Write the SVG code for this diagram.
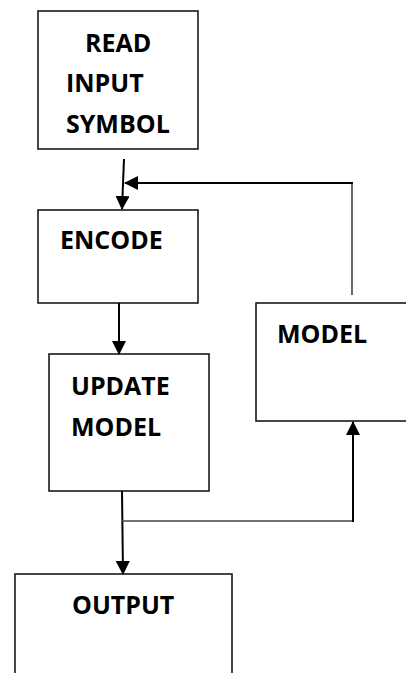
<svg xmlns="http://www.w3.org/2000/svg" width="406" height="673" viewBox="0 0 406 673">
  <defs>
    <style>
      .box { fill: #fff; stroke: #1a1a1a; stroke-width: 1.6; }
      .label { font-family: "Open Sans", "Liberation Sans", sans-serif; font-weight: 700; font-size: 25px; fill: #000; }
      .flow { fill: none; stroke: #000; stroke-width: 2; }
      .flow-thin { fill: none; stroke: #444; stroke-width: 1.6; }
    </style>
    <marker id="arrow" viewBox="0 0 14 14" refX="13" refY="7" markerWidth="14" markerHeight="14" markerUnits="userSpaceOnUse" orient="auto">
      <path d="M0,0 L14,7 L0,14 Z" fill="#000"/>
    </marker>
  </defs>
  <rect width="406" height="673" fill="#fff"/>

  <g id="read-input-symbol">
    <rect class="box" x="38" y="11" width="160" height="138"/>
    <text class="label" x="85" y="52">READ</text>
    <text class="label" x="66" y="92">INPUT</text>
    <text class="label" x="66" y="133">SYMBOL</text>
  </g>

  <g id="encode">
    <rect class="box" x="38" y="210" width="160" height="93"/>
    <text class="label" x="60" y="249">ENCODE</text>
  </g>

  <g id="model">
    <rect class="box" x="256" y="303" width="160" height="118"/>
    <text class="label" x="277" y="343">MODEL</text>
  </g>

  <g id="update-model">
    <rect class="box" x="49" y="354" width="160" height="137"/>
    <text class="label" x="71" y="395">UPDATE</text>
    <text class="label" x="71" y="436">MODEL</text>
  </g>

  <g id="output">
    <rect class="box" x="15" y="574" width="217" height="110"/>
    <text class="label" x="72" y="614">OUTPUT</text>
  </g>

  <g id="connectors">
    <!-- symbol read -> encode -->
    <line class="flow" x1="124" y1="159" x2="122" y2="209" marker-end="url(#arrow)"/>
    <!-- model feedback -> encode input -->
    <line class="flow-thin" x1="352" y1="295" x2="352" y2="183"/>
    <line class="flow" x1="353" y1="183" x2="125" y2="183" marker-end="url(#arrow)"/>
    <!-- encode -> update model -->
    <line class="flow" x1="119" y1="303" x2="119" y2="354" marker-end="url(#arrow)"/>
    <!-- update model -> output -->
    <line class="flow" x1="122" y1="491" x2="123" y2="574" marker-end="url(#arrow)"/>
    <!-- update model -> model -->
    <line class="flow-thin" x1="122" y1="521" x2="353" y2="521"/>
    <line class="flow" x1="353" y1="522" x2="353" y2="422" marker-end="url(#arrow)"/>
  </g>
</svg>
